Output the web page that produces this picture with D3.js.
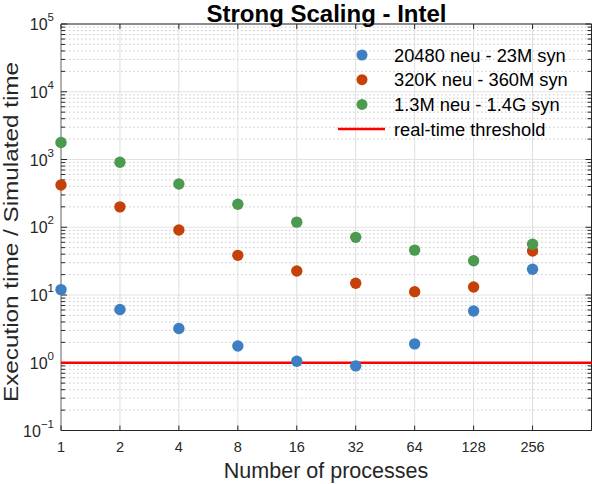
<!DOCTYPE html>
<html>
<head>
<title>Strong Scaling - Intel</title>
<script src="https://d3js.org/d3.v7.min.js"></script>
<style>
  body { margin: 0; background: #fff; }
  text { font-family: "Liberation Sans", Arial, Helvetica, sans-serif; }
</style>
</head>
<body>
<script>
// processes (x) and execution time / simulated time per network size
const processes = [1, 2, 4, 8, 16, 32, 64, 128, 256];
const small = [12, 6.1, 3.2, 1.77, 1.05, 0.9, 1.9, 5.8, 24];
const medium = [420, 200, 91, 38.5, 22.6, 14.9, 11.2, 13.1, 44.5];
const large = [1780, 910, 435, 218, 119, 71, 46, 32, 56];
const seriesNames = ['20480 neu - 23M syn', '320K neu - 360M syn', '1.3M neu - 1.4G syn'];
const seriesColors = ['#3e7ec3', '#c4420a', '#4c9a4f'];
const threshold = 1;
const yTicks = [1e-1, 1e0, 1e1, 1e2, 1e3, 1e4, 1e5];

const W = 592, H = 484;
const pL = 61, pR = 591.5, pT = 24, pB = 430.5;

const svg = d3.select('body').append('svg')
    .attr('width', W)
    .attr('height', H);

const x = d3.scaleLog().base(2).domain([1, 512]).range([pL, pR]);
const y = d3.scaleLog().domain([1e-1, 1e5]).range([pB, pT]);

// minor values 2..9 per decade
const minor = [];
for (let e = -1; e < 5; e++) {
    for (let m = 2; m <= 9; m++) minor.push(m * Math.pow(10, e));
}

const grid = svg.append('g');
grid.selectAll('.minor').data(minor).enter().append('line')
    .attr('x1', pL).attr('x2', pR)
    .attr('y1', d => y(d)).attr('y2', d => y(d))
    .attr('stroke', '#c8c8c8')
    .attr('stroke-dasharray', '1.5,2.5')
    .attr('stroke-width', 1);
grid.selectAll('.major').data(yTicks).enter().append('line')
    .attr('x1', pL).attr('x2', pR)
    .attr('y1', d => y(d)).attr('y2', d => y(d))
    .attr('stroke', '#e2e2e2')
    .attr('stroke-width', 1);
grid.selectAll('.vx').data(processes).enter().append('line')
    .attr('x1', d => x(d)).attr('x2', d => x(d))
    .attr('y1', pT).attr('y2', pB)
    .attr('stroke', '#dedede')
    .attr('stroke-width', 1);

// axes box and ticks
const axisColor = '#262626';
const ax = svg.append('g').attr('stroke', axisColor).attr('stroke-width', 1);
ax.append('line').attr('x1', pL).attr('x2', pR).attr('y1', pB).attr('y2', pB);
ax.append('line').attr('x1', pL).attr('x2', pR).attr('y1', pT).attr('y2', pT);
ax.append('line').attr('x1', pL).attr('x2', pL).attr('y1', pT).attr('y2', pB).attr('stroke', '#707070');
ax.append('line').attr('x1', pR).attr('x2', pR).attr('y1', pT).attr('y2', pB);

processes.forEach(p => {
    ax.append('line').attr('x1', x(p)).attr('x2', x(p)).attr('y1', pB).attr('y2', pB - 5);
    ax.append('line').attr('x1', x(p)).attr('x2', x(p)).attr('y1', pT).attr('y2', pT + 5);
});
yTicks.forEach(v => {
    ax.append('line').attr('x1', pL).attr('x2', pL + 6).attr('y1', y(v)).attr('y2', y(v));
    ax.append('line').attr('x1', pR).attr('x2', pR - 6).attr('y1', y(v)).attr('y2', y(v));
});
minor.forEach(v => {
    ax.append('line').attr('x1', pL).attr('x2', pL + 4).attr('y1', y(v)).attr('y2', y(v));
    ax.append('line').attr('x1', pR).attr('x2', pR - 4).attr('y1', y(v)).attr('y2', y(v));
});

// tick labels
svg.append('g').selectAll('text').data(processes).enter().append('text')
    .attr('x', d => x(d))
    .attr('y', 452)
    .attr('text-anchor', 'middle')
    .attr('font-size', 14.5)
    .attr('fill', axisColor)
    .text(d => d);

const yl = svg.append('g').selectAll('text').data(yTicks).enter().append('text')
    .attr('x', 54)
    .attr('y', d => y(d) + 6)
    .attr('text-anchor', 'end')
    .attr('font-size', 16)
    .attr('fill', axisColor);
yl.append('tspan').text('10');
yl.append('tspan')
    .attr('dy', -9)
    .attr('font-size', 11.5)
    .text(d => String(Math.round(Math.log10(d))).replace('-', '\u2212'));

// threshold line
svg.append('line')
    .attr('x1', pL).attr('x2', pR)
    .attr('y1', y(threshold)).attr('y2', y(threshold))
    .attr('stroke', '#ff0000')
    .attr('stroke-width', 2.5);

// points
[small, medium, large].forEach((vals, i) => {
    svg.append('g').selectAll('circle').data(vals).enter().append('circle')
        .attr('cx', (d, j) => x(processes[j]))
        .attr('cy', d => y(d))
        .attr('r', 5.7)
        .attr('fill', seriesColors[i]);
});

// legend
const lg = svg.append('g');
seriesNames.forEach((name, i) => {
    const ly = 55 + i * 24.7;
    lg.append('circle').attr('cx', 362).attr('cy', ly).attr('r', 5.5).attr('fill', seriesColors[i]);
    lg.append('text').attr('x', 394).attr('y', ly + 6.5)
        .attr('font-size', 18.3).attr('fill', '#000').text(name);
});
lg.append('line').attr('x1', 338).attr('x2', 385).attr('y1', 129).attr('y2', 129)
    .attr('stroke', '#ff0000').attr('stroke-width', 2.5);
lg.append('text').attr('x', 394).attr('y', 135.5)
    .attr('font-size', 18.3).attr('fill', '#000').text('real-time threshold');

// title and axis labels
svg.append('text')
    .attr('x', 326.5).attr('y', 21.5)
    .attr('text-anchor', 'middle')
    .attr('font-size', 24).attr('font-weight', 'bold')
    .text('Strong Scaling - Intel');

svg.append('text')
    .attr('x', 326).attr('y', 478)
    .attr('text-anchor', 'middle')
    .attr('font-size', 21.5)
    .attr('fill', axisColor)
    .text('Number of processes');

svg.append('text')
    .attr('transform', 'translate(18,232) rotate(-90)')
    .attr('text-anchor', 'middle')
    .attr('font-size', 21)
    .attr('fill', axisColor)
    .attr('textLength', 340)
    .attr('lengthAdjust', 'spacingAndGlyphs')
    .text('Execution time / Simulated time');
</script>
</body>
</html>
